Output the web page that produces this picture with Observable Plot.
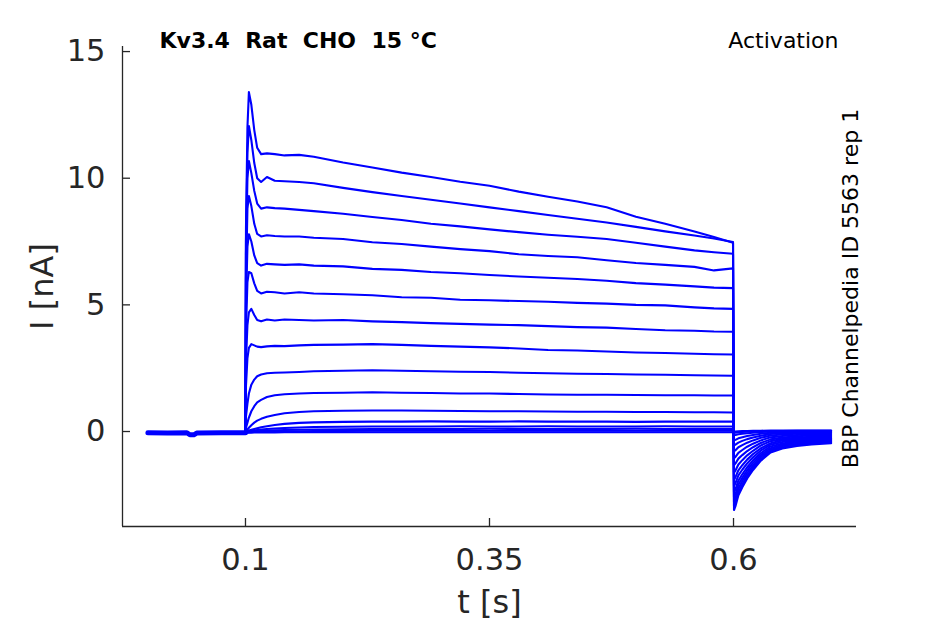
<!DOCTYPE html>
<html><head><meta charset="utf-8">
<script src="https://cdn.jsdelivr.net/npm/d3@7"></script>
<script src="https://cdn.jsdelivr.net/npm/@observablehq/plot@0.6"></script>
<style>
html,body{margin:0;padding:0;background:#fff}
#chart svg{display:block}
</style>
</head><body><div id="chart"></div>
<script>
// ---- axes / ticks ----
const xDomain = [-0.026, 0.726];
const yDomain = [-3.75, 15.2];
const xTicks = [0.1, 0.35, 0.6];
const xTickLabels = ["0.1", "0.35", "0.6"];
const yTicks = [0, 5, 10, 15];
const yTickLabels = ["0", "5", "10", "15"];

// ---- texts ----
const titleText = "Kv3.4\u00a0\u00a0Rat\u00a0\u00a0CHO\u00a0\u00a015 \u00b0C";
const protocolText = "Activation";
const sourceText = "BBP Channelpedia ID 5563 rep 1";
const xLabel = "t [s]";
const yLabel = "I [nA]";

// ---- holding (pre-pulse) current, all sweeps overlapping ----
const preT = [0, 0.02, 0.04, 0.043, 0.047, 0.05, 0.075, 0.1];
const preI = [-0.05, -0.06, -0.05, -0.13, -0.13, -0.06, -0.05, -0.05];

// ---- step (test pulse) time samples, s ----
const stepT = [0.1, 0.1005, 0.102, 0.1035, 0.106, 0.109, 0.112, 0.116, 0.122, 0.13,
  0.14, 0.155, 0.17, 0.2, 0.23, 0.26, 0.29, 0.32, 0.35, 0.38,
  0.41, 0.44, 0.47, 0.5, 0.53, 0.56, 0.58, 0.5995];

// ---- step currents per sweep, nA ----
const step01 = [-0.05, 8.0, 12.0, 13.4, 12.9, 11.9, 11.2, 10.95, 10.98, 10.95, 10.9, 10.92, 10.85, 10.62, 10.42, 10.22, 10.05, 9.86, 9.7, 9.47, 9.27, 9.08, 8.85, 8.48, 8.2, 7.9, 7.68, 7.45];
const step02 = [-0.05, 7.5, 11.0, 12.06, 11.5, 10.6, 10.0, 9.85, 10.05, 9.9, 9.88, 9.85, 9.8, 9.62, 9.45, 9.3, 9.15, 9.0, 8.85, 8.7, 8.55, 8.4, 8.25, 8.08, 7.9, 7.74, 7.62, 7.48];
const step03 = [-0.05, 7.0, 10.0, 10.68, 10.2, 9.5, 9.0, 8.8, 8.85, 8.82, 8.8, 8.75, 8.7, 8.6, 8.47, 8.35, 8.2, 8.1, 7.98, 7.87, 7.77, 7.69, 7.6, 7.45, 7.3, 7.15, 7.08, 7.02];
const step04 = [-0.05, 6.0, 8.8, 9.3, 8.9, 8.2, 7.8, 7.7, 7.75, 7.72, 7.7, 7.7, 7.65, 7.6, 7.47, 7.4, 7.3, 7.2, 7.12, 7.0, 6.93, 6.88, 6.76, 6.65, 6.58, 6.5, 6.36, 6.44];
const step05 = [-0.05, 5.0, 7.3, 7.79, 7.5, 6.95, 6.65, 6.55, 6.62, 6.6, 6.58, 6.6, 6.55, 6.52, 6.42, 6.38, 6.3, 6.25, 6.18, 6.12, 6.07, 6.02, 5.95, 5.86, 5.8, 5.73, 5.68, 5.66];
const step06 = [-0.05, 4.0, 5.9, 6.3, 6.25, 5.85, 5.55, 5.45, 5.52, 5.5, 5.45, 5.5, 5.45, 5.42, 5.38, 5.3, 5.28, 5.2, 5.18, 5.15, 5.12, 5.08, 5.05, 5.0, 4.98, 4.9, 4.86, 4.84];
const step07 = [-0.05, 2.8, 4.2, 4.7, 4.84, 4.6, 4.4, 4.35, 4.42, 4.38, 4.42, 4.4, 4.38, 4.4, 4.35, 4.32, 4.28, 4.25, 4.22, 4.2, 4.16, 4.12, 4.1, 4.05, 4.0, 3.98, 3.95, 3.94];
const step08 = [-0.05, 1.8, 2.9, 3.3, 3.45, 3.4, 3.35, 3.33, 3.36, 3.38, 3.37, 3.4, 3.42, 3.43, 3.45, 3.42, 3.38, 3.35, 3.32, 3.28, 3.22, 3.2, 3.16, 3.12, 3.1, 3.07, 3.05, 3.04];
const step09 = [-0.05, 0.6, 1.1, 1.5, 1.85, 2.05, 2.18, 2.25, 2.3, 2.32, 2.33, 2.35, 2.38, 2.4, 2.42, 2.4, 2.38, 2.36, 2.35, 2.32, 2.3, 2.28, 2.27, 2.25, 2.24, 2.22, 2.21, 2.2];
const step10 = [-0.05, 0.15, 0.35, 0.55, 0.8, 1.0, 1.15, 1.25, 1.36, 1.43, 1.47, 1.5, 1.52, 1.53, 1.55, 1.53, 1.52, 1.5, 1.5, 1.48, 1.46, 1.45, 1.45, 1.44, 1.43, 1.43, 1.42, 1.42];
const step11 = [-0.05, 0.03, 0.08, 0.15, 0.25, 0.35, 0.43, 0.5, 0.58, 0.65, 0.72, 0.77, 0.8, 0.82, 0.83, 0.83, 0.82, 0.81, 0.8, 0.8, 0.79, 0.78, 0.78, 0.77, 0.77, 0.76, 0.76, 0.75];
const step12 = [-0.05, -0.01, 0.02, 0.04, 0.07, 0.1, 0.13, 0.17, 0.21, 0.26, 0.3, 0.34, 0.36, 0.38, 0.39, 0.39, 0.4, 0.39, 0.39, 0.4, 0.39, 0.39, 0.39, 0.38, 0.39, 0.39, 0.39, 0.39];
const step13 = [-0.05, -0.03, -0.01, 0.0, 0.02, 0.04, 0.06, 0.08, 0.1, 0.12, 0.14, 0.16, 0.18, 0.19, 0.2, 0.2, 0.2, 0.21, 0.2, 0.2, 0.21, 0.2, 0.2, 0.2, 0.21, 0.2, 0.2, 0.2];
const step14 = [-0.05, -0.04, -0.03, -0.02, -0.01, 0.0, 0.01, 0.02, 0.04, 0.05, 0.06, 0.07, 0.08, 0.09, 0.1, 0.1, 0.1, 0.1, 0.11, 0.1, 0.1, 0.1, 0.1, 0.11, 0.1, 0.1, 0.1, 0.1];
const step15 = [-0.05, -0.04, -0.04, -0.03, -0.02, -0.02, -0.01, -0.01, 0.0, 0.0, 0.01, 0.01, 0.02, 0.02, 0.03, 0.03, 0.03, 0.03, 0.03, 0.03, 0.03, 0.03, 0.03, 0.03, 0.03, 0.03, 0.03, 0.03];
const step16 = [-0.05, -0.05, -0.05, -0.05, -0.05, -0.04, -0.04, -0.04, -0.04, -0.04, -0.03, -0.03, -0.03, -0.03, -0.03, -0.03, -0.03, -0.03, -0.03, -0.03, -0.03, -0.03, -0.03, -0.03, -0.03, -0.03, -0.03, -0.03];

// ---- tail time samples, s ----
const tailT = [0.6005, 0.602, 0.605, 0.609, 0.614, 0.62, 0.628, 0.638, 0.65, 0.665, 0.68, 0.7];

// ---- tail currents per sweep, nA ----
const tail01 = [-3.10, -2.95, -2.52, -2.20, -1.85, -1.52, -1.15, -0.83, -0.67, -0.57, -0.51, -0.46];
const tail02 = [-2.95, -2.81, -2.39, -2.09, -1.75, -1.43, -1.08, -0.77, -0.62, -0.53, -0.47, -0.42];
const tail03 = [-2.78, -2.64, -2.25, -1.96, -1.64, -1.34, -1.00, -0.72, -0.57, -0.48, -0.43, -0.38];
const tail04 = [-2.60, -2.47, -2.10, -1.83, -1.53, -1.24, -0.93, -0.66, -0.52, -0.43, -0.38, -0.34];
const tail05 = [-2.40, -2.28, -1.94, -1.69, -1.41, -1.14, -0.85, -0.59, -0.47, -0.39, -0.34, -0.30];
const tail06 = [-2.15, -2.04, -1.73, -1.51, -1.26, -1.02, -0.75, -0.52, -0.41, -0.34, -0.30, -0.26];
const tail07 = [-1.90, -1.80, -1.53, -1.33, -1.11, -0.89, -0.66, -0.46, -0.35, -0.29, -0.25, -0.22];
const tail08 = [-1.62, -1.54, -1.30, -1.13, -0.94, -0.76, -0.55, -0.38, -0.30, -0.24, -0.21, -0.18];
const tail09 = [-1.33, -1.26, -1.07, -0.93, -0.77, -0.62, -0.45, -0.31, -0.24, -0.19, -0.16, -0.14];
const tail10 = [-1.05, -1.00, -0.84, -0.73, -0.60, -0.48, -0.35, -0.23, -0.18, -0.14, -0.12, -0.10];
const tail11 = [-0.78, -0.74, -0.62, -0.54, -0.44, -0.35, -0.25, -0.16, -0.12, -0.09, -0.07, -0.06];
const tail12 = [-0.55, -0.52, -0.44, -0.37, -0.30, -0.24, -0.17, -0.10, -0.07, -0.05, -0.04, -0.03];
const tail13 = [-0.35, -0.33, -0.27, -0.23, -0.18, -0.14, -0.09, -0.05, -0.03, -0.01, -0.01, 0.00];
const tail14 = [-0.15, -0.14, -0.11, -0.09, -0.07, -0.05, -0.02, 0.00, 0.01, 0.01, 0.02, 0.02];
const tail15 = [-0.05, -0.05, -0.03, -0.02, -0.01, 0.00, 0.01, 0.02, 0.02, 0.03, 0.03, 0.03];
const tail16 = [0.00, 0.00, 0.01, 0.02, 0.02, 0.03, 0.03, 0.04, 0.04, 0.04, 0.04, 0.04];

const steps = [step01, step02, step03, step04, step05, step06, step07, step08, step09, step10, step11, step12, step13, step14, step15, step16];
const tails = [tail01, tail02, tail03, tail04, tail05, tail06, tail07, tail08, tail09, tail10, tail11, tail12, tail13, tail14, tail15, tail16];

// ---- build tables ----
const sweepRows = [];
steps.forEach((s, k) => {
  stepT.forEach((t, i) => sweepRows.push({sweep: k, t, I: s[i]}));
  tailT.forEach((t, i) => sweepRows.push({sweep: k, t, I: tails[k][i]}));
});
const preRows = preT.map((t, i) => ({t, I: preI[i]}));

const axisColor = "#262626";
const W = 945, H = 624, mL = 122, mR = 89, mT = 46, mB = 98;

const chart = Plot.plot({
  width: W, height: H,
  marginLeft: mL, marginRight: mR, marginTop: mT, marginBottom: mB,
  x: {domain: xDomain},
  y: {domain: yDomain},
  style: {fontFamily: "'DejaVu Sans', sans-serif", background: "#fff", color: axisColor, overflow: "visible"},
  marks: [
    Plot.ruleY([yDomain[0]], {stroke: axisColor, strokeWidth: 1.3}),
    Plot.ruleX([xDomain[0]], {stroke: axisColor, strokeWidth: 1.3}),
    Plot.tickX(xTicks, {x: d => d, stroke: axisColor, strokeWidth: 1.3, insetTop: (H - mT - mB) - 8}),
    Plot.tickY(yTicks, {y: d => d, stroke: axisColor, strokeWidth: 1.3, insetRight: (W - mL - mR) - 8}),
    Plot.axisX(xTicks, {anchor: "bottom", tickSize: 0, tickPadding: 22, fontSize: 30.5,
      tickFormat: d => xTickLabels[xTicks.indexOf(d)], label: null}),
    Plot.axisY(yTicks, {anchor: "left", tickSize: 0, tickPadding: 17, fontSize: 30.5,
      tickFormat: d => yTickLabels[yTicks.indexOf(d)], label: null}),
    Plot.line(preRows, {x: "t", y: "I", stroke: "#0000ff", strokeWidth: 5}),
    Plot.line(sweepRows, {x: "t", y: "I", z: "sweep", stroke: "#0000ff", strokeWidth: 2.1, strokeLinejoin: "round"}),
    Plot.text([xLabel], {frameAnchor: "bottom", dy: 64, textAnchor: "middle", lineAnchor: "top", fontSize: 32, fill: axisColor}),
    Plot.text([yLabel], {frameAnchor: "left", rotate: -90, dx: -92, textAnchor: "middle", lineAnchor: "top", fontSize: 32, fill: axisColor}),
    Plot.text([titleText], {frameAnchor: "top-left", dx: 37, dy: -14.6, textAnchor: "start", lineAnchor: "top",
      fontSize: 22, fontWeight: "bold", fill: "#000"}),
    Plot.text([protocolText], {frameAnchor: "top-right", dx: -18, dy: -14.6, textAnchor: "end", lineAnchor: "top",
      fontSize: 22, fill: "#000"}),
    Plot.text([sourceText], {frameAnchor: "right", rotate: -90, dx: -6, dy: 2, textAnchor: "middle", lineAnchor: "middle",
      fontSize: 22, fill: "#000"})
  ]
});
document.getElementById("chart").appendChild(chart);
</script>
</body></html>
